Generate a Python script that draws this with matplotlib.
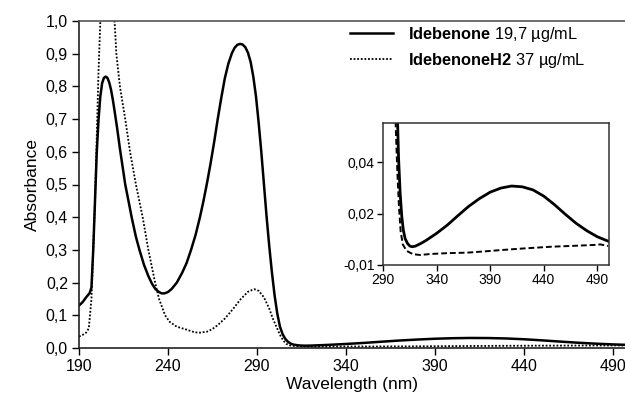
import matplotlib
matplotlib.use("Agg")
import matplotlib.pyplot as plt

plt.rcParams['font.family'] = ['Liberation Sans', 'DejaVu Sans']
plt.rcParams['mathtext.fontset'] = 'custom'
plt.rcParams['mathtext.rm'] = 'Liberation Sans'
plt.rcParams['mathtext.bf'] = 'Liberation Sans:bold'

# Idebenone 19,7 ug/mL (solid)
ide_wl = [190, 192, 194, 196, 197, 198, 199, 200, 201, 202, 203, 204, 205, 206, 207, 208,
          209, 210, 211.5, 213, 214.5, 216, 218, 219.6, 222, 224, 226.5, 229, 231, 233, 235, 236.5,
          238, 240, 242, 245, 248, 250.5, 253, 255.5, 258, 260, 262, 264, 266, 268, 270, 272,
          274, 276, 277.5, 279, 280.6, 282, 283.5, 285, 286.5, 288, 289.5, 291, 292.5, 294,
          295.5, 297, 298.5, 300, 301.5, 303, 304.5, 306, 307.5, 309, 310.7, 313, 315, 317,
          320, 325, 330, 340, 350, 360, 370, 380, 390, 400, 410, 420, 430, 440, 450, 460,
          470, 480, 490, 500]
ide_abs = [0.13, 0.14, 0.155, 0.168, 0.185, 0.3, 0.45, 0.6, 0.7, 0.77, 0.81, 0.826, 0.83, 0.826, 0.812, 0.79,
           0.76, 0.725, 0.67, 0.61, 0.555, 0.5, 0.445, 0.4, 0.34, 0.3, 0.255, 0.22, 0.197, 0.18, 0.171, 0.167,
           0.167, 0.171, 0.18, 0.2, 0.23, 0.26, 0.3, 0.345, 0.4, 0.45, 0.505, 0.565, 0.63, 0.7, 0.765, 0.825,
           0.87, 0.902, 0.918, 0.927, 0.93, 0.928, 0.92, 0.903, 0.875, 0.83, 0.77, 0.69, 0.6, 0.5,
           0.4, 0.31, 0.23, 0.16, 0.105, 0.065, 0.042, 0.028, 0.019, 0.0135, 0.0102, 0.0083, 0.0074, 0.0071,
           0.0073, 0.0083, 0.0095, 0.0123, 0.0155, 0.0192, 0.0228, 0.0258, 0.0283, 0.0299, 0.0307, 0.0304, 0.0292, 0.0268, 0.0235, 0.0198,
           0.0163, 0.0134, 0.011, 0.0093]

# IdebenoneH2 37 ug/mL (dotted)
h2_wl = [190, 192, 194, 195.5, 197, 199, 201, 202, 204, 206, 208, 210, 211, 213, 216, 218.7,
         222, 225.8, 229, 232.8, 235, 238.4, 241, 245, 250, 255, 258, 262, 265, 268,
         272, 276.7, 281, 285, 288.5, 291, 294, 297, 299, 301, 302.2, 303.5, 305, 306.5,
         308.5, 312, 318, 324.7, 335, 350, 368.5, 385, 400, 420, 446.8, 465, 487.5, 493, 500]
h2_abs = [0.035, 0.04, 0.047, 0.06, 0.15, 0.45, 0.85, 1.0, 1.3, 1.35, 1.2, 1.0, 0.9, 0.8, 0.7, 0.6,
          0.5, 0.4, 0.3, 0.2, 0.15, 0.1, 0.08, 0.065, 0.057, 0.048, 0.047, 0.05, 0.058, 0.07,
          0.09, 0.12, 0.15, 0.172, 0.18, 0.175, 0.155, 0.12, 0.09, 0.065, 0.05, 0.035, 0.022, 0.013,
          0.008, 0.0055, 0.0042, 0.0039, 0.0043, 0.0046, 0.0048, 0.0053, 0.0058, 0.0064, 0.0071, 0.0074, 0.0078, 0.008, 0.0074]

x_ticks = [190, 240, 290, 340, 390, 440, 490]
y_ticks = [0.0, 0.1, 0.2, 0.3, 0.4, 0.5, 0.6, 0.7, 0.8, 0.9, 1.0]
inset_x_ticks = [290, 340, 390, 440, 490]
inset_y_ticks = [0.0, 0.02, 0.04]
inset_y_labels = ['-0,01', '0,02', '0,04']

fig = plt.figure(figsize=(6.25, 4.04), dpi=100)
ax = fig.add_axes([79/625, 1-348/404, 1-79/625, (348-21)/404])
ax.plot(ide_wl, ide_abs, color='black', lw=1.8, label=r'$\mathbf{Idebenone}$ 19,7 µg/mL')
ax.plot(h2_wl, h2_abs, color='black', lw=1.3, ls=(0, (1, 1)), label=r'$\mathbf{IdebenoneH2}$ 37 µg/mL')
ax.set_xlim(190, 497)
ax.set_ylim(0, 1.0)
ax.set_xticks(x_ticks)
ax.set_yticks(y_ticks)
ax.set_yticklabels([f"{v:.1f}".replace('.', ',') for v in y_ticks])
ax.spines['right'].set_visible(False)
for s in ['left', 'bottom', 'top']:
    ax.spines[s].set_color('#222222')
    ax.spines[s].set_linewidth(1.2)
ax.spines['top'].set_color('#555555')
ax.tick_params(direction='out', length=5, width=1, labelsize=11.5, pad=3)
ax.set_xlabel('Wavelength (nm)', fontsize=12.5, labelpad=2)
ax.set_ylabel('Absorbance', fontsize=12.5, labelpad=4)

leg = ax.legend(loc='upper left', bbox_to_anchor=(350/625, 1-25/404), bbox_transform=fig.transFigure,
                frameon=False, fontsize=11.8, handlelength=2.6, handletextpad=0.95,
                labelspacing=0.4, borderpad=0, borderaxespad=0)

axi = fig.add_axes([383/625, 1-265/404, (609-383)/625, (265-123)/404])
axi.plot(ide_wl, ide_abs, color='black', lw=2.0)
axi.plot(h2_wl, h2_abs, color='black', lw=1.4, ls=(0, (3, 1.5)))
axi.set_xlim(290, 501)
axi.set_ylim(0, 0.0552)
axi.set_xticks(inset_x_ticks)
axi.set_yticks(inset_y_ticks)
axi.set_yticklabels(inset_y_labels)
for s in axi.spines.values():
    s.set_color('#333333')
    s.set_linewidth(1.1)
axi.tick_params(direction='out', length=4, width=1, labelsize=10, pad=2)

fig.savefig('out.png', dpi=100)
